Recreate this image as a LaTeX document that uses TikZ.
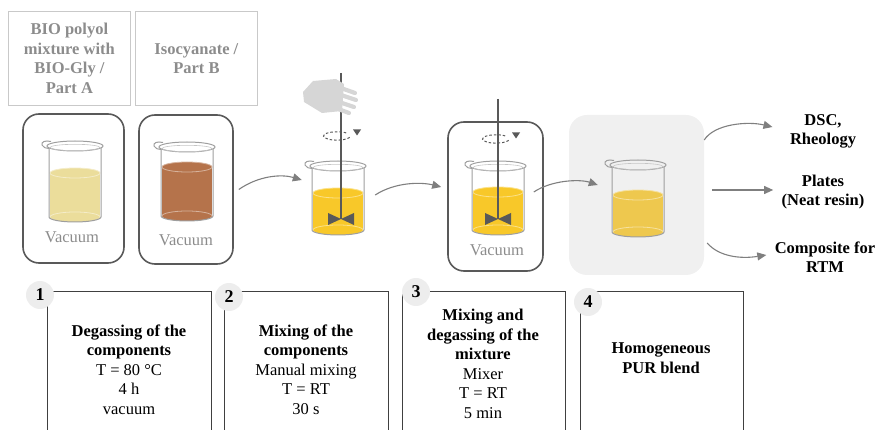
\documentclass[tikz,border=0pt]{standalone}
\usepackage{fontspec}
\setmainfont{Liberation Serif}
\usepackage{tikz}
\usetikzlibrary{positioning, arrows.meta}

\definecolor{glassgray}{HTML}{9E9E9E}
\definecolor{framegray}{HTML}{595959}
\definecolor{rodgray}{HTML}{595959}
\definecolor{arrowgray}{HTML}{7F7F7F}
\definecolor{boxgray}{HTML}{C9C9C9}
\definecolor{labelgray}{HTML}{8C8C8C}
\definecolor{numgray}{HTML}{EDEDED}
\definecolor{blendgray}{HTML}{F0F0F0}
\definecolor{handgray}{HTML}{D6D6D6}
\definecolor{polyol}{HTML}{EBDD9B}
\definecolor{iso}{HTML}{B5734B}
\definecolor{mixed}{HTML}{F8C829}
\definecolor{blend}{HTML}{EEC84E}

% beaker: x, y of the rim centre, liquid colour, liquid depth, bottom depth
\newcommand{\drawbeaker}[5]{%
  \begin{scope}[shift={(#1,#2)}]
    \fill[#3] (-25,#4) rectangle (25,#5);
    \fill[#3] (0,#5) ellipse [x radius=25, y radius=5];
    \fill[#3] (0,#4) ellipse [x radius=25, y radius=5];
    \draw[#3!55!white, line width=0.8pt] (0,#4) ellipse [x radius=25, y radius=5];
    \draw[#3!55!white, line width=0.8pt] (-25,#5) arc [start angle=180, end angle=360, x radius=25, y radius=5];
    \draw[glassgray, line width=1pt] (-26,2) -- (-26,#5) arc [start angle=180, end angle=0, x radius=26, y radius=5] -- (26,2);
    \draw[glassgray, line width=1pt] (0,0) ellipse [x radius=28, y radius=5];
    \draw[glassgray!60, line width=0.6pt] (0,1.5) ellipse [x radius=25, y radius=3.2];
    \draw[glassgray, line width=1pt] (-24,-4.5) .. controls (-30,-6) and (-34,-4) .. (-33,-1) .. controls (-32,1.5) and (-29,2.5) .. (-26,2.5);
  \end{scope}}

% dashed turn marker around a stirrer rod
\newcommand{\drawspin}[2]{%
  \draw[rodgray, line width=1pt, dash pattern=on 2.5pt off 2pt] (#1,#2) ++(12.7,1.4) arc [start angle=20, end angle=320, x radius=13.5, y radius=4.2];
  \fill[rodgray] (#1,#2) ++(16,-6.5) -- ++(8,0) -- ++(-4,6) -- cycle;}

% stirrer rod with its impeller
\newcommand{\drawrod}[3]{%
  \draw[rodgray, line width=2.4pt] (#1,#2) -- (#1,#3);
  \fill[rodgray] (#1,#3) -- ++(-13,-6) -- ++(0,12) -- cycle;
  \fill[rodgray] (#1,#3) -- ++(13,-6) -- ++(0,12) -- cycle;}

\begin{document}
\begin{tikzpicture}[x=1pt, y=-1pt, node distance=2cm]
    \tikzstyle{labelbox} = [rectangle, draw=boxgray, line width=0.8pt, text=labelgray, align=center, anchor=north west, minimum width=122, minimum height=94, font=\fontsize{16.5}{19.5}\selectfont\bfseries]
    \tikzstyle{vacbox} = [rectangle, draw=framegray, line width=1.6pt, rounded corners=16pt]
    \tikzstyle{vactext} = [text=labelgray, font=\fontsize{16.5}{19.5}\selectfont]
    \tikzstyle{stepframe} = [draw=black!75, line width=0.8pt]
    \tikzstyle{stepnum} = [circle, fill=numgray, minimum size=28, inner sep=0pt, font=\fontsize{18}{18}\selectfont\bfseries]
    \tikzstyle{steptext} = [align=center, font=\fontsize{16.5}{19.5}\selectfont]
    \tikzstyle{outlabel} = [align=center, font=\fontsize{16.5}{19}\selectfont\bfseries]
    \tikzstyle{flowarrow} = [draw=arrowgray, line width=1.1pt, -{Triangle[length=9pt, width=8pt]}]

    \useasboundingbox (0,0) rectangle (879,430);

    % components
    \node [labelbox] (partA) at (8,11) {BIO polyol\\mixture with\\BIO-Gly /\\Part A};
    \node [labelbox] (partB) at (135,11) {Isocyanate /\\Part B};

    \node [vacbox, minimum width=101, minimum height=149] (vacA) at (73.5,188.5) {};
    \node [vacbox, minimum width=94, minimum height=149] (vacB) at (186,189.5) {};
    \drawbeaker{75}{146}{polyol}{27}{71}
    \drawbeaker{187}{147}{iso}{20}{69}
    \node [vactext] (vacAtext) at (72,237) {Vacuum};
    \node [vactext] (vacBtext) at (186,240) {Vacuum};

    % manual mixing
    \node [minimum width=80, minimum height=85] (mix) at (338,200) {};
    \drawbeaker{338}{166}{mixed}{27}{64}
    \drawrod{341}{73}{219}
    \fill[handgray] (303,92) -- (313,81) -- (336,79) -- (344,84) -- (342,111) -- (322,113) -- (304,102) -- cycle;
    \foreach \fx/\fy/\tx/\ty in {338/87/355/93, 338/94/356/100, 336/101/354/107, 333/107/349/113}
        \draw[handgray, line width=4.2pt, line cap=round] (\fx,\fy) -- (\tx,\ty);
    \drawspin{337}{136}

    % mixer under vacuum
    \node [vacbox, minimum width=95, minimum height=149] (vacC) at (495.5,196.5) {};
    \drawbeaker{498}{166}{mixed}{26}{64}
    \drawrod{498}{99}{219}
    \drawspin{496}{139}
    \node [vactext] (vacCtext) at (497,250) {Vacuum};

    % final blend
    \node [rectangle, fill=blendgray, rounded corners=18pt, minimum width=135, minimum height=160] (blendbox) at (636.5,195) {};
    \drawbeaker{638}{165}{blend}{30}{67}

    \node [outlabel] (dsc) at (823,131) {DSC,\\Rheology};
    \node [outlabel] (plates) at (823,192) {Plates\\(Neat resin)};
    \node [outlabel] (rtm) at (825,257) {Composite for\\RTM};

    \draw [flowarrow] ([xshift=5pt]vacB.east) .. controls +(20,-14) and +(-20,-6) .. ([xshift=4pt, yshift=20pt]mix.west);
    \draw [flowarrow] ([xshift=-3pt, yshift=5pt]mix.east) .. controls +(20,-13) and +(-20,-5) .. ([xshift=-6pt, yshift=9.5pt]vacC.west);
    \draw [flowarrow] ([xshift=-10pt, yshift=4.5pt]vacC.east) .. controls +(18,-12) and +(-18,-6) .. ([xshift=29pt, yshift=10pt]blendbox.west);
    \draw [flowarrow] ([yshift=55pt]blendbox.east) .. controls +(10,-16) and +(-25,-6) .. ([xshift=-14pt, yshift=4pt]dsc.west);
    \draw [flowarrow] ([xshift=8pt, yshift=5pt]blendbox.east) -- ([xshift=-5pt, yshift=2pt]plates.west);
    \draw [flowarrow] ([xshift=3pt, yshift=-48pt]blendbox.east) .. controls +(12,14) and +(-25,4) .. ([xshift=-5pt, yshift=2pt]rtm.west);

    % process steps
    \draw [stepframe] (47,430) -- (47,291) -- (211,291) -- (211,430);
    \draw [stepframe] (224,430) -- (224,291) -- (388,291) -- (388,430);
    \draw [stepframe] (402,430) -- (402,291) -- (565,291) -- (565,430);
    \draw [stepframe] (580,430) -- (580,291) -- (743,291) -- (743,430);
    \node [stepnum] (num1) at (40,295) {1};
    \node [stepnum] (num2) at (229,297) {2};
    \node [stepnum] (num3) at (416,292) {3};
    \node [stepnum] (num4) at (588,302) {4};

    \node [steptext] (step1) at (129,369.5) {\textbf{Degassing of the}\\\textbf{components}\\T = 80 °C\\4 h\\vacuum};
    \node [steptext] (step2) at (306,369.5) {\textbf{Mixing of the}\\\textbf{components}\\Manual mixing\\T = RT\\30 s};
    \node [steptext] (step3) at (483,364) {\textbf{Mixing and}\\\textbf{degassing of the}\\\textbf{mixture}\\Mixer\\T = RT\\5 min};
    \node [steptext] (step4) at (661,358) {\textbf{Homogeneous}\\\textbf{PUR blend}};
\end{tikzpicture}
\end{document}
